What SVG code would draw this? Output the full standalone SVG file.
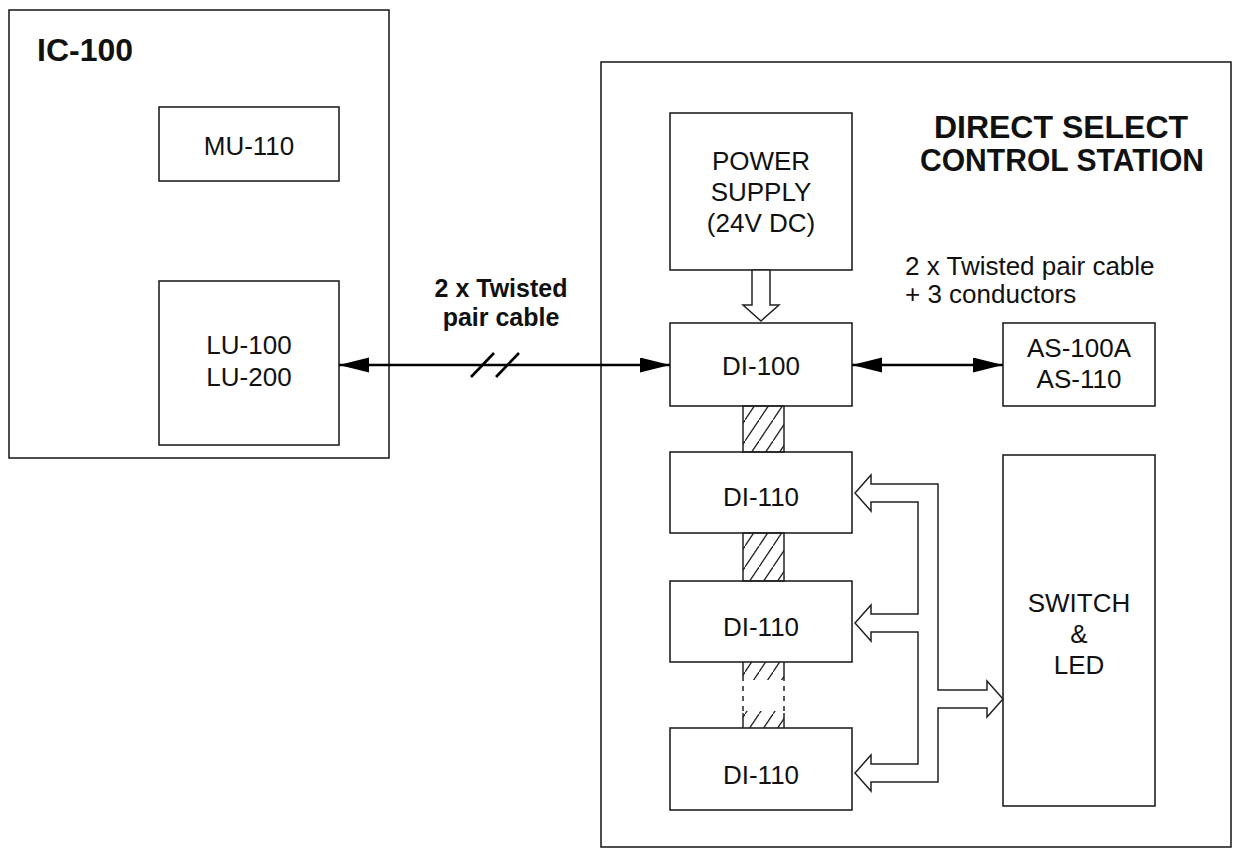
<svg xmlns="http://www.w3.org/2000/svg" width="1243" height="851" viewBox="0 0 1243 851">
<style>
.box{fill:none;stroke:#222;stroke-width:1.6}
.t{font-family:"Liberation Sans",Arial,Helvetica,sans-serif;font-size:26px;fill:#111}
.c{text-anchor:middle}
.b{font-weight:bold}
.big{font-size:32px}
.lbl{font-size:25px}
.hol{fill:#fff;stroke:#222;stroke-width:1.5;stroke-linejoin:miter}
.wire{stroke:#000;stroke-width:2.6;fill:none}
.hs{stroke:#222;stroke-width:1.5}
</style>
<defs>
<pattern id="hatch" patternUnits="userSpaceOnUse" width="14" height="21" x="745" y="0">
<line x1="-2" y1="24" x2="16" y2="-3" stroke="#222" stroke-width="1.3"/>
</pattern>
<marker id="ah" markerUnits="userSpaceOnUse" markerWidth="32" markerHeight="16" refX="30" refY="7.5" orient="auto-start-reverse" viewBox="0 0 32 16">
<path d="M0,0 L30,7.5 L0,15 Z" fill="#000"/>
</marker>
</defs>
<rect width="1243" height="851" fill="#fff"/>

<g id="ic100">
<rect class="box" x="9" y="10" width="380" height="448"/>
<text class="t b big" x="37" y="61">IC-100</text>
</g>
<g id="mu110">
<rect class="box" x="159" y="107" width="180" height="74"/>
<text class="t c" x="249" y="155">MU-110</text>
</g>
<g id="lu">
<rect class="box" x="159" y="281" width="180" height="164"/>
<text class="t c" x="249" y="354">LU-100</text>
<text class="t c" x="249" y="386">LU-200</text>
</g>

<g id="station">
<rect class="box" x="601" y="62" width="630" height="785"/>
<text class="t c b big" x="1061" y="138">DIRECT SELECT</text>
<text class="t c b big" x="1062" y="171" textLength="284" lengthAdjust="spacingAndGlyphs">CONTROL STATION</text>
</g>
<g id="power">
<rect class="box" x="670" y="113" width="182" height="157"/>
<text class="t c" x="761" y="170">POWER</text>
<text class="t c" x="761" y="201">SUPPLY</text>
<text class="t c" x="761" y="232">(24V DC)</text>
</g>
<g id="di100">
<rect class="box" x="670" y="323" width="182" height="83"/>
<text class="t c" x="761" y="375">DI-100</text>
</g>
<g id="as">
<rect class="box" x="1003" y="323" width="152" height="83"/>
<text class="t c" x="1079" y="357">AS-100A</text>
<text class="t c" x="1079" y="388">AS-110</text>
</g>
<g id="di110a">
<rect class="box" x="670" y="452" width="182" height="81"/>
<text class="t c" x="761" y="506">DI-110</text>
</g>
<g id="di110b">
<rect class="box" x="670" y="581" width="182" height="81"/>
<text class="t c" x="761" y="636">DI-110</text>
</g>
<g id="di110c">
<rect class="box" x="670" y="728" width="182" height="82"/>
<text class="t c" x="761" y="784">DI-110</text>
</g>
<g id="switch">
<rect class="box" x="1003" y="455" width="152" height="351"/>
<text class="t c" x="1079" y="612">SWITCH</text>
<text class="t c" x="1079" y="643">&amp;</text>
<text class="t c" x="1079" y="674">LED</text>
</g>

<g id="labels">
<text class="t c b lbl" x="501" y="297">2 x Twisted</text>
<text class="t c b lbl" x="501" y="326">pair cable</text>
<text class="t" x="905" y="275">2 x Twisted pair cable</text>
<text class="t" x="905" y="303">+ 3 conductors</text>
</g>

<g id="connectors">
<line class="wire" x1="339" y1="365" x2="670" y2="365" marker-start="url(#ah)" marker-end="url(#ah)"/>
<line class="wire" x1="471" y1="377" x2="494" y2="353" stroke-width="2.2"/>
<line class="wire" x1="496" y1="377" x2="519" y2="353" stroke-width="2.2"/>
<line class="wire" x1="852" y1="365" x2="1003" y2="365" marker-start="url(#ah)" marker-end="url(#ah)"/>

<path class="hol" d="M752,270 L770,270 L770,305 L779,305 L761,321 L743,305 L752,305 Z"/>

<rect x="743" y="406" width="41" height="46" fill="url(#hatch)" class="hs"/>
<rect x="743" y="533" width="41" height="48" fill="url(#hatch)" class="hs"/>
<rect x="743" y="662" width="41" height="18" fill="url(#hatch)"/>
<rect x="743" y="711" width="41" height="17" fill="url(#hatch)"/>
<line class="hs" x1="743" y1="662" x2="743" y2="676"/>
<line class="hs" x1="784" y1="662" x2="784" y2="676"/>
<line class="hs" x1="743" y1="676" x2="743" y2="713" stroke-dasharray="5,5"/>
<line class="hs" x1="784" y1="676" x2="784" y2="713" stroke-dasharray="5,5"/>
<line class="hs" x1="743" y1="713" x2="743" y2="728"/>
<line class="hs" x1="784" y1="713" x2="784" y2="728"/>

<path class="hol" d="M871,484 L938,484 L938,690 L987,690 L987,681 L1003,699 L987,717 L987,708 L938,708 L938,782 L871,782 L871,791 L855,773 L871,755 L871,764 L918,764 L918,632 L871,632 L871,641 L855,623 L871,605 L871,614 L918,614 L918,502 L871,502 L871,511 L855,493 L871,475 Z"/>
</g>
</svg>
